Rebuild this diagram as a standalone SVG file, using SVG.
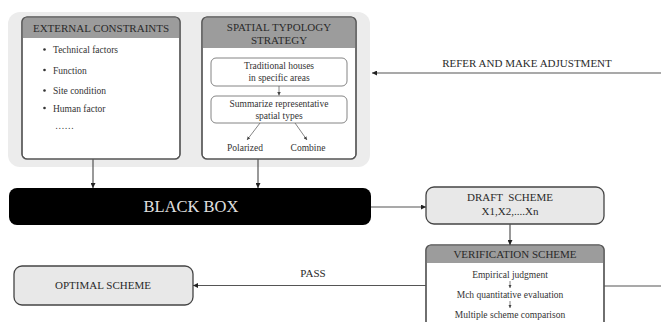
<svg xmlns="http://www.w3.org/2000/svg" width="661" height="322" viewBox="0 0 661 322" font-family="'Liberation Serif', 'Times New Roman', serif">
  <defs>
    <style>
      text { font-family: 'Liberation Serif', 'Times New Roman', serif; fill: #333; }
      .hdr { font-size: 11px; text-anchor: middle; fill: #2a2a2a; }
      .sm { font-size: 9.5px; }
      .smc { font-size: 9.5px; text-anchor: middle; }
      .box { fill: #fff; stroke: #555; stroke-width: 1.2; }
      .band { fill: #9c9c9c; }
      .grey { fill: #e8e8e8; stroke: #444; stroke-width: 1.3; }
      .ln { fill: none; stroke: #555; stroke-width: 1.2; }
      .thin { fill: none; stroke: #666; stroke-width: 0.8; }
    </style>
    <marker id="ah" viewBox="0 0 10 10" refX="10" refY="5" markerWidth="5" markerHeight="5" orient="auto" markerUnits="userSpaceOnUse">
      <path d="M0,0 L10,5 L0,10 z" fill="#222"/>
    </marker>
    <marker id="ahs" viewBox="0 0 10 10" refX="10" refY="5" markerWidth="3.5" markerHeight="3.5" orient="auto" markerUnits="userSpaceOnUse">
      <path d="M0,0 L10,5 L0,10 z" fill="#444"/>
    </marker>
    <clipPath id="clipExt"><rect x="22" y="17" width="158" height="142" rx="5"/></clipPath>
    <clipPath id="clipSp"><rect x="202" y="17" width="154" height="142" rx="5"/></clipPath>
    <clipPath id="clipVer"><rect x="426" y="245" width="178" height="90" rx="5"/></clipPath>
  </defs>

  <!-- shared backdrop for the two input panels -->
  <rect id="panel" x="8" y="12" width="362" height="155" rx="12" fill="#ececec"/>

  <!-- external constraints -->
  <g id="external-constraints">
    <rect class="box" x="22" y="17" width="158" height="142" rx="5"/>
    <rect class="band" x="22" y="17" width="158" height="21" clip-path="url(#clipExt)"/>
    <rect x="22" y="17" width="158" height="142" rx="5" fill="none" stroke="#555" stroke-width="1.2"/>
    <text class="hdr" x="101" y="31.5">EXTERNAL CONSTRAINTS</text>
    <g fill="#333">
      <circle cx="44.5" cy="49.5" r="1.3"/>
      <circle cx="44.5" cy="70" r="1.3"/>
      <circle cx="44.5" cy="90.5" r="1.3"/>
      <circle cx="44.5" cy="108" r="1.3"/>
    </g>
    <text class="sm" x="53" y="53">Technical factors</text>
    <text class="sm" x="53" y="73.5">Function</text>
    <text class="sm" x="53" y="94">Site condition</text>
    <text class="sm" x="53" y="111.5">Human factor</text>
    <text class="sm" x="55" y="129">……</text>
  </g>

  <!-- spatial typology strategy -->
  <g id="spatial-typology">
    <rect class="box" x="202" y="17" width="154" height="142" rx="5"/>
    <rect class="band" x="202" y="17" width="154" height="31" clip-path="url(#clipSp)"/>
    <rect x="202" y="17" width="154" height="142" rx="5" fill="none" stroke="#555" stroke-width="1.2"/>
    <text class="hdr" x="279" y="31">SPATIAL TYPOLOGY</text>
    <text class="hdr" x="279" y="44">STRATEGY</text>
    <rect x="211" y="58" width="136" height="28" rx="5" fill="#fff" stroke="#777" stroke-width="0.9"/>
    <text class="smc" x="279" y="69">Traditional houses</text>
    <text class="smc" x="279" y="81">in specific areas</text>
    <rect x="211" y="96" width="136" height="27" rx="5" fill="#fff" stroke="#777" stroke-width="0.9"/>
    <text class="smc" x="279" y="107">Summarize representative</text>
    <text class="smc" x="279" y="119">spatial types</text>
    <line class="thin" x1="279" y1="86" x2="279" y2="95.5" marker-end="url(#ahs)"/>
    <line class="thin" x1="260" y1="123" x2="247" y2="140" marker-end="url(#ahs)"/>
    <line class="thin" x1="295" y1="123" x2="307" y2="140" marker-end="url(#ahs)"/>
    <text class="smc" x="245" y="151">Polarized</text>
    <text class="smc" x="308" y="151">Combine</text>
  </g>

  <!-- black box -->
  <g id="black-box">
    <rect x="9" y="188" width="362" height="37" rx="8" fill="#000"/>
    <text x="191" y="212" font-size="16.5" text-anchor="middle" style="fill:#e0e0e0">BLACK BOX</text>
  </g>

  <!-- draft scheme -->
  <g id="draft-scheme">
    <rect class="grey" x="426" y="187" width="178" height="37" rx="8"/>
    <text class="hdr" x="510" y="201" xml:space="preserve">DRAFT  SCHEME</text>
    <text class="hdr" x="510" y="215">X1,X2,....Xn</text>
  </g>

  <!-- verification scheme -->
  <g id="verification-scheme">
    <rect class="box" x="426" y="245" width="178" height="90" rx="5"/>
    <rect class="band" x="426" y="245" width="178" height="18" clip-path="url(#clipVer)"/>
    <rect x="426" y="245" width="178" height="90" rx="5" fill="none" stroke="#555" stroke-width="1.2"/>
    <text class="hdr" x="515" y="258">VERIFICATION SCHEME</text>
    <text class="smc" x="510" y="278">Empirical judgment</text>
    <line class="thin" x1="510" y1="281" x2="510" y2="288" marker-end="url(#ahs)"/>
    <text class="smc" x="510" y="298">Mch quantitative evaluation</text>
    <line class="thin" x1="510" y1="301" x2="510" y2="308" marker-end="url(#ahs)"/>
    <text class="smc" x="510" y="318">Multiple scheme comparison</text>
  </g>

  <!-- optimal scheme -->
  <g id="optimal-scheme">
    <rect class="grey" x="14" y="266" width="179" height="39" rx="8"/>
    <text class="hdr" x="103" y="289">OPTIMAL SCHEME</text>
  </g>

  <!-- connectors -->
  <g id="connectors">
    <line class="ln" x1="93" y1="159" x2="93" y2="188" marker-end="url(#ah)"/>
    <line class="ln" x1="258" y1="159" x2="258" y2="188" marker-end="url(#ah)"/>
    <line class="ln" x1="371" y1="207" x2="426" y2="207" marker-end="url(#ah)"/>
    <line class="ln" x1="510" y1="224" x2="510" y2="245" marker-end="url(#ah)"/>
    <line class="ln" x1="426" y1="285.5" x2="193" y2="285.5" marker-end="url(#ah)"/>
    <line class="ln" x1="604" y1="286" x2="661" y2="286"/>
    <line class="ln" x1="661" y1="73" x2="372" y2="73" marker-end="url(#ah)"/>
    <text class="hdr" x="527" y="67">REFER AND MAKE ADJUSTMENT</text>
    <text class="hdr" x="313" y="277">PASS</text>
  </g>
</svg>
